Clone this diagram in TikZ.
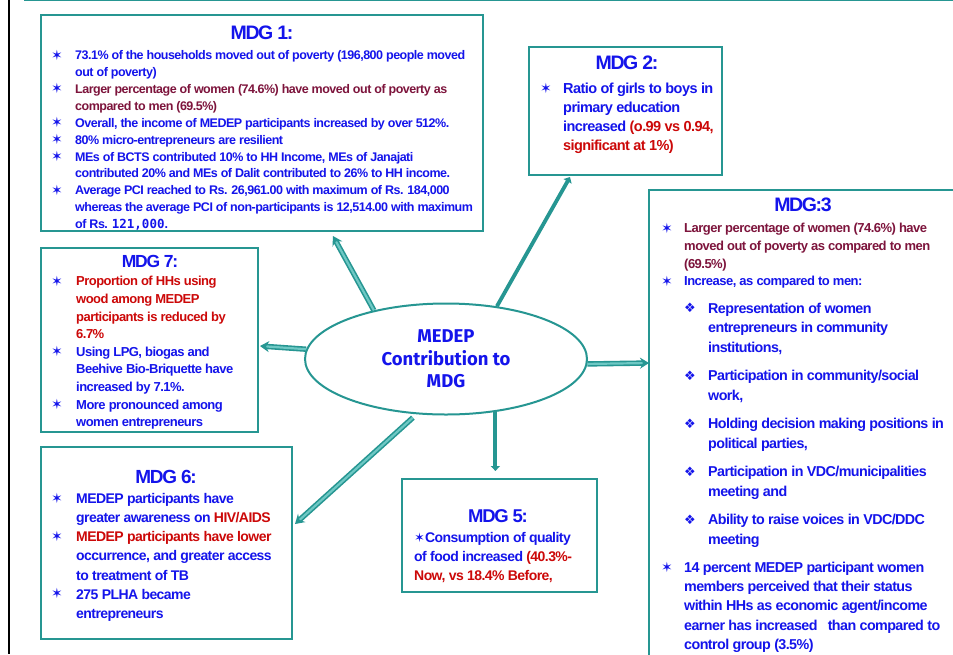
\documentclass[tikz,border=0pt]{standalone}
\usepackage{fontspec}
\setmainfont{Liberation Sans}[LetterSpace=-4]
\newfontfamily\ttlfont{Liberation Sans}[LetterSpace=-7]
\newfontfamily\symfont{DejaVu Sans}
\newfontfamily\ellfont{Fira Sans}
\newfontfamily\numfont{DejaVu Sans Mono}
\usetikzlibrary{arrows.meta,calc,shapes.geometric}
\definecolor{tl}{RGB}{38,150,146}
\definecolor{tlc}{RGB}{110,200,196}
\definecolor{bl}{RGB}{20,20,235}
\definecolor{mr}{RGB}{125,20,60}
\definecolor{rd}{RGB}{204,8,8}
\begin{document}
\begin{tikzpicture}[x=1pt,y=-1pt,
 box/.style={draw=tl, line width=2.8pt, anchor=north west, inner sep=0, outer sep=0},
 ttl/.style={inner sep=0, text=bl, font=\ttlfont\bfseries\fontsize{#1}{#1}\selectfont},
 ttl/.default=19.5,
 txt/.style 2 args={anchor=north west, inner sep=0, align=left, text=bl, font=\bfseries\fontsize{#1}{#2}\selectfont},
 st/.style={inner sep=0, text=bl, font=\symfont\fontsize{14}{14}\selectfont},
 dia/.style={inner sep=0, text=bl, font=\symfont\fontsize{13}{13}\selectfont},
 dbl/.style={draw=tl, line width=1.6pt, double=tlc, double distance=2.2pt, -{Stealth[length=9pt,width=11pt]}},
 sol/.style={draw=tl, line width=3.8pt, -{Triangle[length=5pt,width=9pt]}},
]
\clip (0,0) rectangle (953,654);
\fill[white] (0,0) rectangle (953,654);
\draw[line width=2.2pt] (9,0) -- (9,654);
\draw[tl, line width=1.8pt] (24,0.5) -- (953,0.5);

% boxes
\node[box, minimum width=442, minimum height=216] (mdg1) at (41,15) {};
\node[box, minimum width=193, minimum height=128] (mdg2) at (529,47) {};
\node[box, minimum width=330, minimum height=500] (mdg3) at (649,190) {};
\node[box, minimum width=217, minimum height=184] (mdg7) at (41,248) {};
\node[box, minimum width=251, minimum height=192] (mdg6) at (41,447) {};
\node[box, minimum width=195, minimum height=113] (mdg5) at (402,479) {};

% titles
\node[ttl] (t1) at (262,33) {MDG 1:};
\node[ttl] (t2) at (627,63) {MDG 2:};
\node[ttl] (t3) at (803,205) {MDG:3};
\node[ttl=17.5] (t7) at (150,261) {MDG 7:};
\node[ttl=19] (t6) at (166,477) {MDG 6:};
\node[ttl=18.5] (t5) at (498,516) {MDG 5:};

% MDG 1
\node[txt={12.5}{16.9}] (x1) at (75,47.6) {\strut 73.1\% of the households moved out of poverty (196,800 people moved\\
out of poverty)\\
\textcolor{mr}{Larger percentage of women (74.6\%) have moved out of poverty as}\\
\textcolor{mr}{compared to men (69.5\%)}\\
Overall, the income of MEDEP participants increased by over 512\%.\\
80\% micro-entrepreneurs are resilient\\
MEs of BCTS contributed 10\% to HH Income, MEs of Janajati\\
contributed 20\% and MEs of Dalit contributed to 26\% to HH income.\\
Average PCI reached to Rs. 26,961.00 with maximum of Rs. 184,000\\
whereas the average PCI of non-participants is 12,514.00 with maximum\\
of Rs. {\numfont 121,000}.};
\node[st] (s1a) at (57,55) {✶};
\node[st] (s1b) at (57,88.8) {✶};
\node[st] (s1c) at (57,122.6) {✶};
\node[st] (s1d) at (57,139.5) {✶};
\node[st] (s1e) at (57,156.4) {✶};
\node[st] (s1f) at (57,190.2) {✶};

% MDG 2
\node[txt={14.5}{19}] (x2) at (563,79.9) {\strut Ratio of girls to boys in\\
primary education\\
increased \textcolor{rd}{(o.99 vs 0.94,}\\
\textcolor{rd}{significant at 1\%)}};
\node[st] (s2a) at (546,88) {✶};

% MDG 3
\node[txt={13}{17.7}] (x3a) at (684,220.3) {\strut\textcolor{mr}{Larger percentage of women (74.6\%) have}\\
\textcolor{mr}{moved out of poverty as compared to men}\\
\textcolor{mr}{(69.5\%)}\\
Increase, as compared to men:};
\node[st] (s3a) at (667,228) {✶};
\node[st] (s3b) at (667,281.1) {✶};
\node[txt={14.3}{19.5}] (x3b) at (708,299.5) {\strut Representation of women\\
entrepreneurs in community\\
institutions,\\[9pt]
Participation in community/social\\
work,\\[9pt]
Holding decision making positions in\\
political parties,\\[9pt]
Participation in VDC/municipalities\\
meeting and\\[9pt]
Ability to raise voices in VDC/DDC\\
meeting};
\node[dia] (d3a) at (690,308) {❖};
\node[dia] (d3b) at (690,375.5) {❖};
\node[dia] (d3c) at (690,423.5) {❖};
\node[dia] (d3d) at (690,471.5) {❖};
\node[dia] (d3e) at (690,519.5) {❖};
\node[txt={14.3}{19.3}] (x3c) at (684,558.6) {\strut 14 percent MEDEP participant women\\
members perceived that their status\\
within HHs as economic agent/income\\
earner has increased\ \ \ than compared to\\
control group (3.5\%)};
\node[st] (s3c) at (667,567) {✶};

% MDG 7
\node[txt={13}{17.6}] (x7) at (76,273.3) {\strut\textcolor{rd}{Proportion of HHs using}\\
\textcolor{rd}{wood among MEDEP}\\
\textcolor{rd}{participants is reduced by}\\
\textcolor{rd}{6.7\%}\\
Using LPG, biogas and\\
Beehive Bio-Briquette have\\
increased by 7.1\%.\\
More pronounced among\\
women entrepreneurs};
\node[st] (s7a) at (57,281) {✶};
\node[st] (s7b) at (57,351.4) {✶};
\node[st] (s7c) at (57,404.2) {✶};

% MDG 6
\node[txt={14}{19.2}] (x6) at (76,489.6) {\strut MEDEP participants have\\
greater awareness on \textcolor{rd}{HIV/AIDS}\\
\textcolor{rd}{MEDEP participants have lower}\\
occurrence, and greater access\\
to treatment of TB\\
275 PLHA became\\
entrepreneurs};
\node[st] (s6a) at (57,498) {✶};
\node[st] (s6b) at (57,536.4) {✶};
\node[st] (s6c) at (57,593.6) {✶};

% MDG 5
\node[txt={14}{19}] (x5) at (414,528.7) {\strut{\symfont\fontsize{13}{13}\selectfont ✶}Consumption of quality\\
of food increased \textcolor{rd}{(40.3\%-}\\
\textcolor{rd}{Now, vs 18.4\% Before,}};

% centre
\node[ellipse, draw=tl, line width=2pt, fill=white, minimum width=282, minimum height=111, inner sep=0, text=bl, align=center, font=\ellfont\bfseries\fontsize{18.5}{22.5}\selectfont] (c) at (446,359) {MEDEP\\ Contribution to\\ MDG};

% connectors
\draw[dbl] (c.146) -- ($(mdg1.south west)+(292,5)$);
\draw[sol] (c.46) -- ($(mdg2.south west)+(41,2)$);
\draw[dbl] (c.176) -- ($(mdg7.north east)+(2,98)$);
\draw[dbl] (c.-2) -- ($(mdg3.north west)+(0,173)$);
\draw[sol] (c.-47) -- ($(c.-47 |- mdg5.north)+(0,-8)$);
\draw[dbl, shorten <=5pt] (c.-118) -- ($(mdg6.north east)+(3,77)$);
\end{tikzpicture}
\end{document}
